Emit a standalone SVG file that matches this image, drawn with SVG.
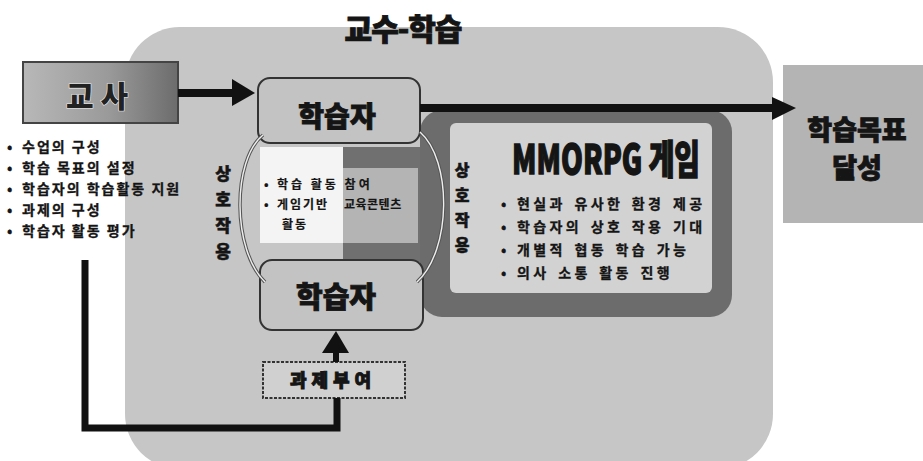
<svg xmlns="http://www.w3.org/2000/svg" width="923" height="461" viewBox="0 0 923 461">
<defs>
<style>
text{font-family:"Noto Sans CJK KR","Noto Sans",sans-serif;fill:#151515;}
.h{font-weight:900;stroke:#151515;stroke-width:0.9;}
.lst{font-size:14px;font-weight:700;letter-spacing:2px;stroke:#151515;stroke-width:0.3;}
.ml{font-size:14px;font-weight:700;letter-spacing:3.4px;word-spacing:2px;stroke:#151515;stroke-width:0.3;}
.inner{font-size:12px;font-weight:700;stroke:#151515;stroke-width:0.2;}
.vt{font-weight:900;text-anchor:middle;stroke:#151515;stroke-width:0.5;}
.learner{fill:#c3c3c3;stroke:#333;stroke-width:2;}
.arc1{fill:none;stroke:#555;stroke-width:3.5;}
.arc2{fill:none;stroke:#eee;stroke-width:1.4;}
.conn{fill:none;stroke:#111;}
.head{fill:#111;}
</style>
<linearGradient id="gT" x1="0" y1="0" x2="1" y2="0">
<stop offset="0" stop-color="#b8b8b8"/>
<stop offset="0.55" stop-color="#9a9a9a"/>
<stop offset="1" stop-color="#6c6c6c"/>
</linearGradient>
</defs>
<rect width="923" height="461" fill="#fff"/>

<g id="frame">
<rect x="125" y="27" width="648" height="442" rx="55" fill="#c6c6c6"/>
<text class="h" x="403" y="40" font-size="30" text-anchor="middle" letter-spacing="-1">교수-학습</text>
</g>

<g id="teacher">
<rect x="23" y="62" width="155" height="61" fill="url(#gT)" stroke="#444" stroke-width="2"/>
<text x="97" y="107" font-size="30" font-weight="900" text-anchor="middle" style="fill:#222;stroke:#eee;stroke-width:1.2;paint-order:stroke">교 사</text>
</g>

<g id="teacher-roles">
<g class="lst">
<text x="7" y="152">•</text><text x="22" y="152">수업의 구성</text>
<text x="7" y="173">•</text><text x="22" y="173">학습 목표의 설정</text>
<text x="7" y="194">•</text><text x="22" y="194">학습자의 학습활동 지원</text>
<text x="7" y="215">•</text><text x="22" y="215">과제의 구성</text>
<text x="7" y="236">•</text><text x="22" y="236">학습자 활동 평가</text>
</g>
</g>

<g id="mmorpg">
<rect x="420" y="110" width="312" height="207" rx="22" fill="#6c6c6c"/>
<rect x="450" y="123" width="262" height="170" rx="6" fill="#d2d2d2"/>
<text class="h" x="512" y="174" font-size="40" textLength="188" lengthAdjust="spacingAndGlyphs" style="stroke-width:1.4">MMORPG 게임</text>
<g class="ml">
<text x="501" y="209">•</text><text x="517" y="209">현실과 유사한 환경 제공</text>
<text x="501" y="232">•</text><text x="517" y="232">학습자의 상호 작용 기대</text>
<text x="501" y="255">•</text><text x="517" y="255">개별적 협동 학습 가능</text>
<text x="501" y="278">•</text><text x="517" y="278">의사 소통 활동 진행</text>
</g>
<g class="vt" font-size="16">
<text x="462" y="176">상</text>
<text x="462" y="201">호</text>
<text x="462" y="226">작</text>
<text x="462" y="251">용</text>
</g>
</g>

<g id="activity">
<rect x="343" y="147" width="77" height="115" fill="#707070"/>
<rect x="343" y="168" width="75" height="75" fill="#b4b4b4"/>
<rect x="260" y="147" width="83" height="96" fill="#f4f4f4"/>
<g class="inner">
<text x="264" y="189">•</text><text x="277" y="189" letter-spacing="3">학습 활동 참여</text>
<text x="264" y="209">•</text><text x="277" y="209" letter-spacing="2">게임기반</text>
<text x="282" y="229" letter-spacing="2">활동</text>
<text x="344" y="209" letter-spacing="0.5">교육콘텐츠</text>
</g>
</g>

<g id="learner-top">
<rect class="learner" x="258" y="78" width="162" height="65" rx="12"/>
<text class="h" x="337" y="127" font-size="28" text-anchor="middle">학습자</text>
</g>

<g id="learner-bottom">
<rect class="learner" x="260" y="260" width="163" height="70" rx="12"/>
<text class="h" x="336" y="308" font-size="29" text-anchor="middle">학습자</text>
</g>

<g id="interaction-left">
<g class="vt" font-size="17">
<text x="223" y="180">상</text>
<text x="223" y="206">호</text>
<text x="223" y="232">작</text>
<text x="223" y="258">용</text>
</g>
</g>

<g id="task">
<rect x="263" y="362" width="142" height="36" fill="#d0d0d0" stroke="#333" stroke-width="2" stroke-dasharray="3 1.5"/>
<text class="h" x="333" y="387" font-size="18" text-anchor="middle" letter-spacing="5">과제부여</text>
</g>

<g id="goal">
<rect x="783" y="65" width="140" height="158" fill="#b4b4b4"/>
<text class="h" x="857" y="140" font-size="27" text-anchor="middle">학습목표</text>
<text class="h" x="857" y="178" font-size="27" text-anchor="middle">달성</text>
</g>

<g id="connectors">
<path class="arc1" d="M263,135 C232,160 232,250 265,282"/>
<path class="arc2" d="M263,135 C232,160 232,250 265,282"/>
<path class="arc1" d="M420,132 C452,160 452,250 417,282"/>
<path class="arc2" d="M420,132 C452,160 452,250 417,282"/>
<line class="conn" x1="178" y1="93" x2="236" y2="93" stroke-width="8"/>
<polygon class="head" points="232,79 255,93 232,106"/>
<line class="conn" x1="420" y1="108" x2="776" y2="108" stroke-width="8"/>
<polygon class="head" points="772,97 796,108 772,120"/>
<line class="conn" x1="336" y1="362" x2="336" y2="348" stroke-width="6"/>
<polygon class="head" points="322,353 336,331 349,353"/>
<path class="conn" d="M85,260 V428 H337 V398" stroke-width="7"/>
</g>
</svg>
